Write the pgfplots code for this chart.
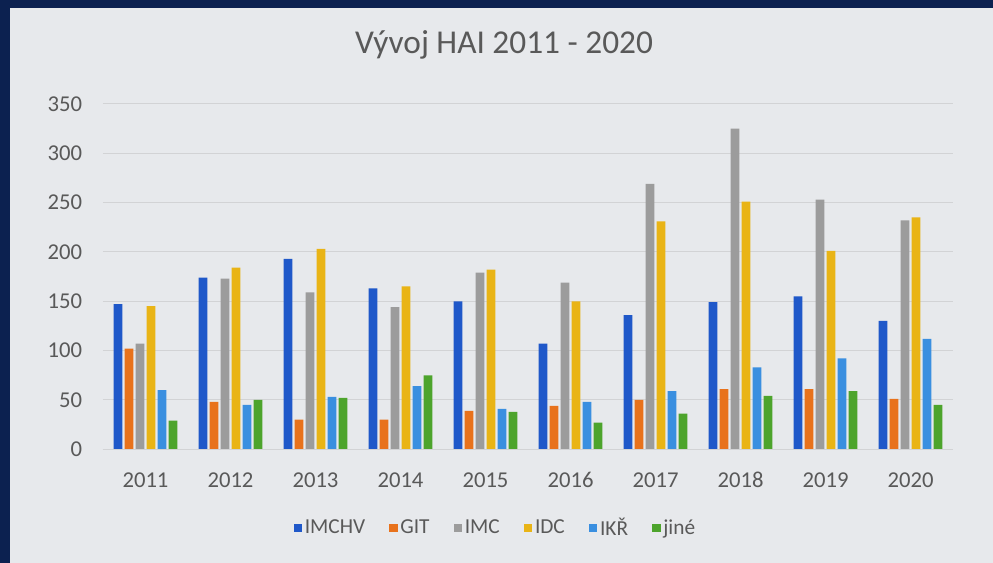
\documentclass[border=0pt]{standalone}
\usepackage{fontspec}
\setmainfont{Carlito}
\usepackage{pgfplots}
\pgfplotsset{compat=1.18}
\definecolor{navy}{HTML}{0C2150}
\definecolor{panel}{HTML}{E7E9EC}
\definecolor{txt}{HTML}{595959}
\definecolor{gridc}{HTML}{D2D3D5}
\definecolor{cimchv}{HTML}{1F58C9}
\definecolor{cgit}{HTML}{E8721C}
\definecolor{cimc}{HTML}{9C9C9C}
\definecolor{cidc}{HTML}{E9B416}
\definecolor{cikr}{HTML}{3A8FE0}
\definecolor{cjine}{HTML}{4DA42C}

\begin{document}
\begin{tikzpicture}[x=0.75pt,y=0.75pt]
% background: dark frame and light chart panel
\fill[navy] (0,0) rectangle (993,563);
\fill[panel] (10,0) rectangle (993,555);
\node[font=\fontsize{25}{30}\selectfont, text=txt] at (504,518) {Vývoj HAI 2011 - 2020};
\begin{axis}[
  at={(77.25pt,85.3pt)}, anchor=south west,
  scale only axis, width=637.5pt, height=259pt,
  ybar=1.75pt, bar width=6.5pt,
  xmin=-0.5, xmax=9.5, ymin=0, ymax=350,
  xtick={0,...,9},
  xticklabels={2011,2012,2013,2014,2015,2016,2017,2018,2019,2020},
  ytick={0,50,...,350},
  major tick length=0pt,
  axis line style={draw=none},
  ymajorgrids, grid style={gridc, line width=0.75pt},
  tick label style={font=\fontsize{17}{20}\selectfont, text=txt},
  /pgf/number format/assume math mode=true,
  xticklabel style={anchor=center, yshift=-23pt},
  yticklabel style={anchor=east, inner sep=0pt, xshift=-15.5pt},
  legend style={at={(0.462,-0.228)}, anchor=center, draw=none, fill=none,
    font=\fontsize{16}{20}\selectfont, text=txt, legend columns=-1,
    /tikz/every even column/.append style={column sep=16pt}},
  legend image code/.code={\fill[#1] (0pt,-3.2pt) rectangle (6.4pt,3.2pt);},
]
\addplot[fill=cimchv, draw=none] coordinates {(0,147) (1,174) (2,193) (3,163) (4,150) (5,107) (6,136) (7,149) (8,155) (9,130)};
\addplot[fill=cgit, draw=none] coordinates {(0,102) (1,48) (2,30) (3,30) (4,39) (5,44) (6,50) (7,61) (8,61) (9,51)};
\addplot[fill=cimc, draw=none] coordinates {(0,107) (1,173) (2,159) (3,144) (4,179) (5,169) (6,269) (7,325) (8,253) (9,232)};
\addplot[fill=cidc, draw=none] coordinates {(0,145) (1,184) (2,203) (3,165) (4,182) (5,150) (6,231) (7,251) (8,201) (9,235)};
\addplot[fill=cikr, draw=none] coordinates {(0,60) (1,45) (2,53) (3,64) (4,41) (5,48) (6,59) (7,83) (8,92) (9,112)};
\addplot[fill=cjine, draw=none] coordinates {(0,29) (1,50) (2,52) (3,75) (4,38) (5,27) (6,36) (7,54) (8,59) (9,45)};
\legend{IMCHV,GIT,IMC,IDC,IKŘ,jiné}
\draw[gridc, line width=0.75pt] (rel axis cs:0,0) -- (rel axis cs:1,0);
\end{axis}
\end{tikzpicture}
\end{document}
